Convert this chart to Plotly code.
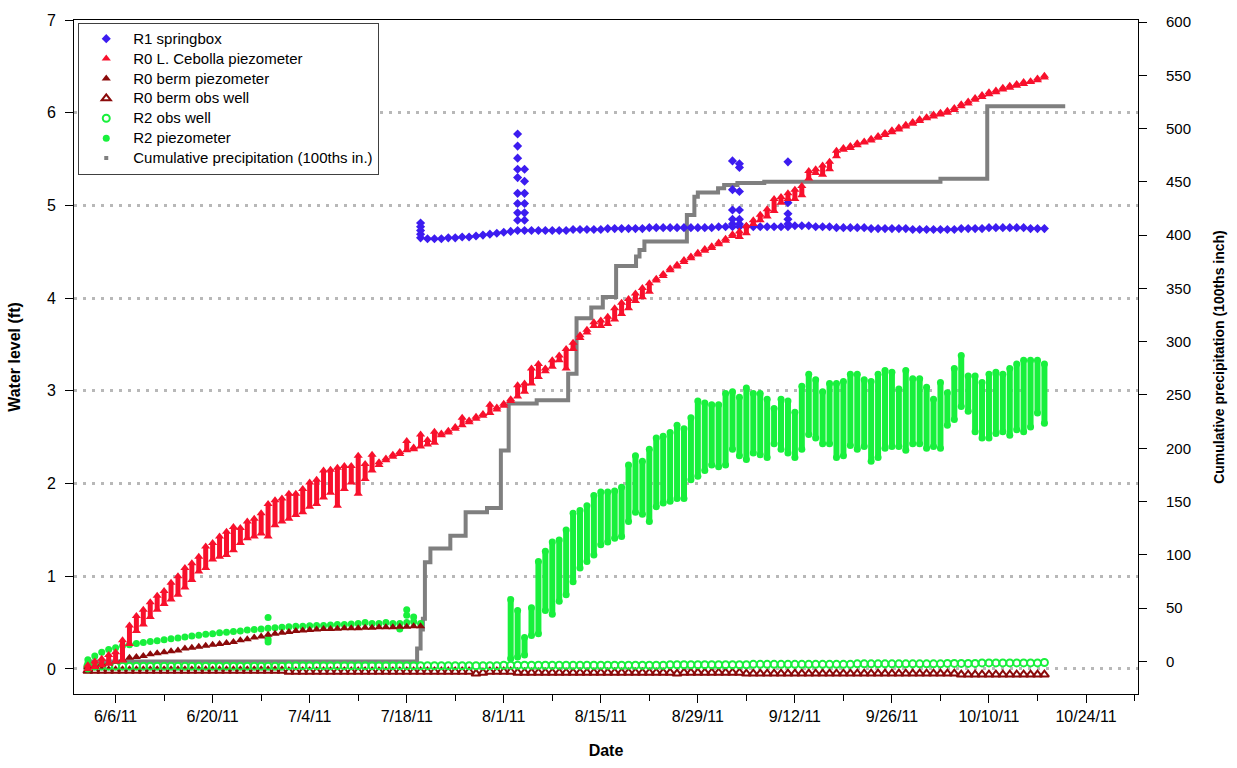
import numpy as np
import pandas as pd
import plotly.graph_objects as go

FONT = "Liberation Sans, Arial, sans-serif"

# ---------------- data ----------------
# R0 L. Cebolla piezometer: daily low / high readings, 6/2/11 - 10/18/11
red_lo_jun = [0.00, 0.02, 0.04, 0.06, 0.08, 0.09, 0.27, 0.41, 0.48, 0.56, 0.64, 0.70, 0.75, 0.80, 0.88,
              0.96, 1.05, 1.09, 1.18, 1.21, 1.23, 1.28, 1.36, 1.41, 1.43, 1.46, 1.43, 1.55, 1.59]
red_hi_jun = [0.04, 0.08, 0.11, 0.15, 0.18, 0.31, 0.47, 0.57, 0.64, 0.72, 0.79, 0.84, 0.93, 1.00, 1.09,
              1.14, 1.21, 1.32, 1.36, 1.43, 1.48, 1.53, 1.52, 1.59, 1.62, 1.68, 1.78, 1.82, 1.84]
red_lo_jul = [1.62, 1.66, 1.69, 1.75, 1.78, 1.85, 1.90, 1.76, 1.94, 2.01, 1.89, 2.05, 2.14, 2.20, 2.25, 2.29,
              2.32, 2.36, 2.37, 2.40, 2.42, 2.44, 2.52, 2.55, 2.59, 2.63, 2.66, 2.70, 2.73, 2.76, 2.80]
red_hi_jul = [1.89, 1.89, 1.94, 2.01, 2.04, 2.14, 2.15, 2.17, 2.19, 2.19, 2.30, 2.21, 2.31, 2.23, 2.27, 2.31,
              2.34, 2.46, 2.39, 2.53, 2.47, 2.56, 2.54, 2.57, 2.61, 2.71, 2.68, 2.72, 2.75, 2.85, 2.82]
red_lo_aug = [2.84, 2.89, 2.94, 2.99, 3.08, 3.15, 3.21, 3.26, 3.33, 3.24, 3.45, 3.57, 3.63, 3.70, 3.70, 3.72,
              3.77, 3.83, 3.89, 3.97, 4.01, 4.07, 4.19, 4.24, 4.30, 4.34, 4.39, 4.43, 4.47, 4.51, 4.54]
red_hi_aug = [2.86, 2.91, 3.06, 3.08, 3.24, 3.29, 3.24, 3.33, 3.38, 3.45, 3.52, 3.60, 3.66, 3.74, 3.76, 3.80,
              3.89, 3.95, 3.99, 4.05, 4.11, 4.16, 4.21, 4.26, 4.32, 4.36, 4.41, 4.45, 4.49, 4.53, 4.56]
red_lo_sep = [4.58, 4.62, 4.67, 4.66, 4.70, 4.80, 4.84, 4.88, 4.94, 5.03, 5.07, 5.07, 5.11, 5.29, 5.35,
              5.33, 5.39, 5.53, 5.60, 5.62, 5.65, 5.68, 5.70, 5.73, 5.76, 5.79, 5.82, 5.85, 5.88, 5.91]
red_hi_sep = [4.60, 4.64, 4.69, 4.72, 4.78, 4.84, 4.90, 4.96, 5.07, 5.09, 5.13, 5.17, 5.21, 5.37, 5.39,
              5.43, 5.47, 5.59, 5.62, 5.64, 5.67, 5.69, 5.72, 5.75, 5.78, 5.81, 5.84, 5.87, 5.90, 5.93]
red_lo_oct = [5.94, 5.96, 5.98, 6.00, 6.03, 6.07, 6.10, 6.14, 6.17, 6.20, 6.22, 6.25, 6.27, 6.29, 6.31,
              6.33, 6.35, 6.38]
red_hi_oct = [5.95, 5.98, 6.00, 6.02, 6.05, 6.09, 6.12, 6.16, 6.19, 6.22, 6.24, 6.27, 6.29, 6.31, 6.33,
              6.34, 6.37, 6.40]

# R0 berm piezometer: 6/2/11 - 7/20/11
berm_pz_jun = [0.02, 0.03, 0.05, 0.06, 0.08, 0.10, 0.12, 0.13, 0.14, 0.16, 0.17, 0.18, 0.19, 0.20, 0.22,
               0.23, 0.24, 0.25, 0.26, 0.27, 0.28, 0.29, 0.31, 0.32, 0.34, 0.35, 0.37, 0.38, 0.39]
berm_pz_jul = [0.40, 0.41, 0.415, 0.42, 0.425, 0.43, 0.43, 0.435, 0.44, 0.44, 0.44, 0.445, 0.445, 0.45,
               0.45, 0.45, 0.455, 0.455, 0.46, 0.46]

# R0 berm obs well: 6/2/11 - 10/18/11
berm_ow_jun = [-0.02, -0.02, -0.02, -0.02, -0.02, -0.02, -0.02, -0.02, -0.02, -0.02, -0.02, -0.02, -0.02,
               -0.02, -0.02, -0.02, -0.02, -0.02, -0.02, -0.02, -0.02, -0.02, -0.02, -0.02, -0.02, -0.02,
               -0.02, -0.02, -0.02]
berm_ow_jul = [-0.03, -0.03, -0.03, -0.03, -0.03, -0.03, -0.03, -0.03, -0.03, -0.03, -0.03, -0.03, -0.03,
               -0.03, -0.03, -0.03, -0.03, -0.03, -0.03, -0.03, -0.03, -0.03, -0.03, -0.03, -0.03, -0.03,
               -0.03, -0.05, -0.04, -0.03, -0.03]
berm_ow_aug = [-0.03, -0.03, -0.04, -0.04, -0.04, -0.04, -0.04, -0.04, -0.04, -0.04, -0.04, -0.04, -0.04,
               -0.04, -0.04, -0.04, -0.04, -0.04, -0.04, -0.04, -0.04, -0.04, -0.04, -0.04, -0.04, -0.05,
               -0.04, -0.04, -0.04, -0.04, -0.04]
berm_ow_sep = [-0.04, -0.04, -0.04, -0.04, -0.05, -0.05, -0.05, -0.05, -0.05, -0.05, -0.05, -0.05, -0.05,
               -0.05, -0.05, -0.05, -0.05, -0.05, -0.05, -0.05, -0.05, -0.05, -0.05, -0.05, -0.05, -0.05,
               -0.05, -0.05, -0.05, -0.05]
berm_ow_oct = [-0.05, -0.05, -0.05, -0.05, -0.05, -0.06, -0.06, -0.06, -0.06, -0.06, -0.06, -0.06, -0.06,
               -0.06, -0.06, -0.06, -0.06, -0.06]

# R2 obs well: 6/2/11 - 10/18/11
r2_ow_jun = [0.03, 0.03, 0.03, 0.03, 0.03, 0.03, 0.03, 0.03, 0.03, 0.03, 0.03, 0.03, 0.03, 0.03, 0.03,
             0.03, 0.03, 0.03, 0.03, 0.03, 0.03, 0.03, 0.03, 0.03, 0.03, 0.03, 0.03, 0.03, 0.03]
r2_ow_jul = [0.035, 0.035, 0.035, 0.035, 0.035, 0.035, 0.035, 0.035, 0.035, 0.035, 0.035, 0.035, 0.035,
             0.035, 0.035, 0.035, 0.035, 0.035, 0.035, 0.035, 0.035, 0.035, 0.035, 0.035, 0.035, 0.035,
             0.035, 0.035, 0.035, 0.035, 0.035]
r2_ow_aug = [0.04, 0.04, 0.04, 0.04, 0.04, 0.04, 0.04, 0.04, 0.04, 0.04, 0.04, 0.04, 0.04, 0.04, 0.04,
             0.04, 0.04, 0.04, 0.04, 0.04, 0.04, 0.04, 0.04, 0.04, 0.045, 0.045, 0.045, 0.045, 0.045,
             0.045, 0.045]
r2_ow_sep = [0.045, 0.045, 0.045, 0.045, 0.045, 0.05, 0.05, 0.05, 0.05, 0.05, 0.05, 0.05, 0.05, 0.05,
             0.05, 0.05, 0.05, 0.05, 0.05, 0.05, 0.055, 0.055, 0.055, 0.055, 0.055, 0.055, 0.055, 0.055,
             0.055, 0.055]
r2_ow_oct = [0.055, 0.055, 0.055, 0.06, 0.06, 0.06, 0.06, 0.06, 0.065, 0.065, 0.065, 0.065, 0.065, 0.065,
             0.065, 0.065, 0.065, 0.07]

# R2 piezometer, part 1 (single daily readings) 6/2/11 - 7/20/11
r2_pz1_jun = [0.06, 0.14, 0.18, 0.21, 0.23, 0.25, 0.26, 0.275, 0.285, 0.295, 0.305, 0.315, 0.325, 0.335,
              0.345, 0.355, 0.365, 0.375, 0.38, 0.39, 0.395, 0.405, 0.41, 0.42, 0.425, 0.43, 0.44, 0.445,
              0.45]
r2_pz1_jul = [0.455, 0.46, 0.46, 0.465, 0.47, 0.47, 0.475, 0.48, 0.48, 0.485, 0.49, 0.50, 0.49, 0.49,
              0.50, 0.49, 0.49, 0.50, 0.51, 0.49]
r2_pz1_extra_dates = ["2011-06-02", "2011-06-02", "2011-06-28", "2011-06-28", "2011-06-28", "2011-07-17",
                      "2011-07-18", "2011-07-18", "2011-07-19"]
r2_pz1_extra_vals = [0.00, 0.10, 0.555, 0.32, 0.29, 0.43, 0.64, 0.58, 0.56]

# R2 piezometer, part 2: daily low / high, 8/2/11 - 10/18/11
r2_lo_aug = [0.11, 0.13, 0.15, 0.36, 0.38, 0.63, 0.59, 0.73, 0.80, 0.94, 1.09, 1.16, 1.23, 1.34, 1.37,
             1.41, 1.43, 1.59, 1.69, 1.67, 1.59, 1.75, 1.79, 1.81, 1.84, 1.84, 2.04, 2.08, 2.14, 2.20]
r2_hi_aug = [0.75, 0.63, 0.34, 0.66, 1.16, 1.27, 1.37, 1.39, 1.50, 1.68, 1.71, 1.76, 1.87, 1.91, 1.91,
             1.92, 1.96, 2.20, 2.30, 2.24, 2.37, 2.49, 2.51, 2.55, 2.63, 2.59, 2.71, 2.89, 2.87, 2.85]
r2_lo_sep = [2.18, 2.20, 2.37, 2.30, 2.26, 2.33, 2.31, 2.28, 2.43, 2.37, 2.33, 2.28, 2.37, 2.53, 2.49,
             2.43, 2.43, 2.28, 2.30, 2.41, 2.37, 2.40, 2.24, 2.28, 2.38, 2.40, 2.40, 2.36, 2.43, 2.43]
r2_hi_sep = [2.85, 2.97, 2.99, 2.93, 3.03, 2.97, 2.97, 2.91, 2.81, 2.91, 2.89, 2.77, 3.05, 3.18, 3.12,
             2.99, 3.08, 3.08, 3.10, 3.18, 3.18, 3.12, 3.10, 3.18, 3.22, 3.20, 3.02, 3.22, 3.13, 3.13]
r2_lo_oct = [2.38, 2.40, 2.38, 2.63, 2.69, 2.83, 2.78, 2.56, 2.49, 2.49, 2.54, 2.56, 2.52, 2.58, 2.56,
             2.61, 2.76, 2.65]
r2_hi_oct = [3.04, 2.91, 3.09, 2.98, 3.24, 3.38, 3.16, 3.16, 3.09, 3.18, 3.20, 3.18, 3.24, 3.29, 3.33,
             3.33, 3.33, 3.29]

# R1 springbox: daily readings 7/20/11 - 10/18/11 plus storm-spike readings
r1_jul = [4.65, 4.64, 4.64, 4.64, 4.65, 4.65, 4.66, 4.66, 4.67, 4.68, 4.69, 4.70]
r1_aug = [4.71, 4.72, 4.73, 4.73, 4.73, 4.73, 4.73, 4.73, 4.73, 4.73, 4.74, 4.74, 4.74, 4.74, 4.74, 4.75,
          4.75, 4.75, 4.75, 4.75, 4.75, 4.76, 4.76, 4.76, 4.76, 4.76, 4.76, 4.76, 4.76, 4.76, 4.76]
r1_sep = [4.77, 4.77, 4.77, 4.77, 4.77, 4.77, 4.77, 4.77, 4.77, 4.77, 4.77, 4.78, 4.78, 4.78, 4.77, 4.77,
          4.77, 4.76, 4.76, 4.76, 4.76, 4.76, 4.75, 4.75, 4.75, 4.75, 4.75, 4.75, 4.74, 4.74]
r1_oct = [4.74, 4.74, 4.74, 4.74, 4.74, 4.75, 4.75, 4.75, 4.75, 4.76, 4.76, 4.76, 4.76, 4.76, 4.76, 4.75,
          4.75, 4.75]
r1_spike_dates = (["2011-07-20"] * 4 + ["2011-08-03"] * 9 + ["2011-08-04"] * 6 + ["2011-09-03"] * 5
                  + ["2011-09-04"] * 6 + ["2011-09-11"] * 5)
r1_spike_vals = [4.81, 4.77, 4.73, 4.69,
                 5.77, 5.64, 5.51, 5.39, 5.30, 5.13, 5.02, 4.92, 4.84,
                 5.39, 5.26, 5.13, 5.02, 4.92, 4.84,
                 5.48, 5.17, 4.95, 4.85, 4.80,
                 5.45, 5.41, 5.15, 4.95, 4.85, 4.80,
                 5.47, 5.03, 4.91, 4.85, 4.80]

# Cumulative precipitation (100ths in.), step changes
precip_dates = ["2011-06-02 00:00", "2011-07-19 12:00", "2011-07-20 00:00", "2011-07-20 08:00",
                "2011-07-20 15:00", "2011-07-21 10:00", "2011-07-24 07:00", "2011-07-26 12:00",
                "2011-07-29 14:00", "2011-07-31 14:00", "2011-08-01 17:00", "2011-08-05 18:00",
                "2011-08-10 07:00", "2011-08-11 12:00", "2011-08-13 15:00", "2011-08-15 07:00",
                "2011-08-17 05:00", "2011-08-20 02:00", "2011-08-20 14:00", "2011-08-21 07:00",
                "2011-08-27 10:00", "2011-08-28 12:00", "2011-08-29 00:00", "2011-08-31 22:00",
                "2011-09-01 19:00", "2011-09-03 17:00", "2011-09-07 14:00", "2011-10-03 00:00",
                "2011-10-09 18:00", "2011-10-21 00:00"]
precip_vals = [0, 12, 30, 40, 93, 106, 118, 140, 144, 198, 242, 245, 270, 322, 332, 342, 371, 380, 386,
               394, 419, 436, 440, 444, 447, 449, 450, 453, 521, 521]

x_tick_labels_fmt = "%-m/%-d/%y"

# ---------------- colours ----------------
BLUE = "#3c1cf0"
RED = "#f8102c"
DKRED = "#8b0a0a"
GREEN = "#18f03c"
GRAY = "#7f7f7f"


def daily(start, vals):
    return pd.date_range(start, periods=len(vals), freq="D")


def lg(name):
    return '<span style="font-size:15px">' + name + "</span>"


red_lo = red_lo_jun + red_lo_jul + red_lo_aug + red_lo_sep + red_lo_oct
red_hi = red_hi_jun + red_hi_jul + red_hi_aug + red_hi_sep + red_hi_oct
red_x = daily("2011-06-02", red_lo)

berm_pz = berm_pz_jun + berm_pz_jul
berm_pz_x = daily("2011-06-02", berm_pz)

berm_ow = berm_ow_jun + berm_ow_jul + berm_ow_aug + berm_ow_sep + berm_ow_oct
berm_ow_x = daily("2011-06-02", berm_ow)

r2_ow = r2_ow_jun + r2_ow_jul + r2_ow_aug + r2_ow_sep + r2_ow_oct
r2_ow_x = daily("2011-06-02", r2_ow)

r2_pz1 = r2_pz1_jun + r2_pz1_jul
r2_pz1_x = daily("2011-06-02", r2_pz1)

r2_lo = r2_lo_aug + r2_lo_sep + r2_lo_oct
r2_hi = r2_hi_aug + r2_hi_sep + r2_hi_oct
r2_x = daily("2011-08-02", r2_lo)

r1 = r1_jul + r1_aug + r1_sep + r1_oct
r1_x = daily("2011-07-20", r1)

fig = go.Figure()

# precipitation on the primary (right-side) axis so that it is drawn beneath the water-level marks
fig.add_trace(go.Scatter(x=precip_dates, y=precip_vals, mode="lines", yaxis="y",
                         line=dict(color=GRAY, width=4, shape="hv"), showlegend=False,
                         hoverinfo="skip"))
fig.add_trace(go.Scatter(x=[None], y=[None], mode="markers", yaxis="y",
                         name=lg("Cumulative precipitation (100ths in.)"), legendrank=7,
                         marker=dict(color=GRAY, size=4, symbol="square")))

# R0 berm obs well
fig.add_trace(go.Scatter(x=berm_ow_x, y=berm_ow, mode="markers", yaxis="y2", name=lg("R0 berm obs well"),
                         legendrank=4,
                         marker=dict(symbol="triangle-up-open", size=8, color=DKRED,
                                     line=dict(width=2, color=DKRED))))
# R2 obs well
fig.add_trace(go.Scatter(x=r2_ow_x, y=r2_ow, mode="markers", yaxis="y2", name=lg("R2 obs well"),
                         legendrank=5,
                         marker=dict(symbol="circle-open", size=7, color=GREEN,
                                     line=dict(width=2, color=GREEN))))
# R2 piezometer
fig.add_trace(go.Scatter(x=list(r2_pz1_x) + list(r2_x), y=r2_pz1 + r2_hi, mode="markers", yaxis="y2",
                         name=lg("R2 piezometer"), legendrank=6,
                         error_y=dict(type="data", symmetric=False,
                                      array=[0] * (len(r2_pz1) + len(r2_hi)),
                                      arrayminus=[0] * len(r2_pz1)
                                      + list(np.array(r2_hi) - np.array(r2_lo)),
                                      color=GREEN, thickness=6, width=0),
                         marker=dict(symbol="circle", size=7, color=GREEN)))
fig.add_trace(go.Scatter(x=list(r2_x) + r2_pz1_extra_dates, y=r2_lo + r2_pz1_extra_vals, mode="markers",
                         yaxis="y2", showlegend=False,
                         marker=dict(symbol="circle", size=7, color=GREEN)))
# R0 berm piezometer
fig.add_trace(go.Scatter(x=berm_pz_x, y=berm_pz, mode="markers", yaxis="y2", name=lg("R0 berm piezometer"),
                         legendrank=3, marker=dict(symbol="triangle-up", size=8, color=DKRED)))
# R1 springbox
fig.add_trace(go.Scatter(x=list(r1_x) + r1_spike_dates, y=r1 + r1_spike_vals, mode="markers", yaxis="y2",
                         name=lg("R1 springbox"), legendrank=1,
                         marker=dict(symbol="diamond", size=7, color=BLUE)))
# R0 L. Cebolla piezometer
fig.add_trace(go.Scatter(x=red_x, y=red_hi, mode="markers", yaxis="y2",
                         name=lg("R0 L. Cebolla piezometer"), legendrank=2,
                         error_y=dict(type="data", symmetric=False, array=[0] * len(red_hi),
                                      arrayminus=list(np.array(red_hi) - np.array(red_lo)),
                                      color=RED, thickness=5, width=0),
                         marker=dict(symbol="triangle-up", size=8, color=RED)))
fig.add_trace(go.Scatter(x=red_x, y=red_lo, mode="markers", yaxis="y2", showlegend=False,
                         marker=dict(symbol="triangle-up", size=8, color=RED)))

DAY_MS = 86400000

fig.update_layout(
    width=1237, height=768,
    margin=dict(l=74, r=96, t=15, b=71),
    paper_bgcolor="white", plot_bgcolor="white",
    font=dict(family=FONT, color="black", size=15),
    showlegend=True,
    legend=dict(x=0.004, y=0.996, xanchor="left", yanchor="top", bgcolor="white",
                bordercolor="#404040", borderwidth=1, font=dict(family=FONT, size=13, color="black"),
                tracegroupgap=0, itemclick=False, itemwidth=44),
    xaxis=dict(type="date", range=["2011-05-31", "2011-10-31 12:00"], tick0="2011-06-06",
               dtick=14 * DAY_MS, tickformat=x_tick_labels_fmt, ticks="outside", ticklen=8,
               tickcolor="black", showline=True, linecolor="black", linewidth=1, mirror=True,
               showgrid=False, zeroline=False, tickfont=dict(size=16),
               minor=dict(dtick=7 * DAY_MS, tick0="2011-06-06", ticks="outside", ticklen=6,
                          tickcolor="black", showgrid=False),
               title=dict(text="<b>Date</b>", font=dict(size=16), standoff=20)),
    yaxis=dict(side="right", range=[-30.6, 601.9], tick0=0, dtick=50, ticks="outside", ticklen=8,
               tickcolor="black", showline=True, linecolor="black", linewidth=1, showgrid=False,
               zeroline=False, tickfont=dict(size=15), ticklabelstandoff=16,
               title=dict(text="<b>Cumulative precipitation (100ths inch)</b>", font=dict(size=14),
                          standoff=24)),
    yaxis2=dict(overlaying="y", side="left", anchor="x", range=[-0.27, 7], tick0=0, dtick=1,
                ticks="outside", ticklen=8, tickcolor="black", showline=True, linecolor="black",
                linewidth=1, showgrid=True, gridcolor="#b8b8b8", gridwidth=3, griddash="3px,6px",
                zeroline=False, tickfont=dict(size=16), ticklabelstandoff=6,
                title=dict(text="<b>Water level (ft)</b>", font=dict(size=16), standoff=22)),
)

fig.write_html("out.html")
